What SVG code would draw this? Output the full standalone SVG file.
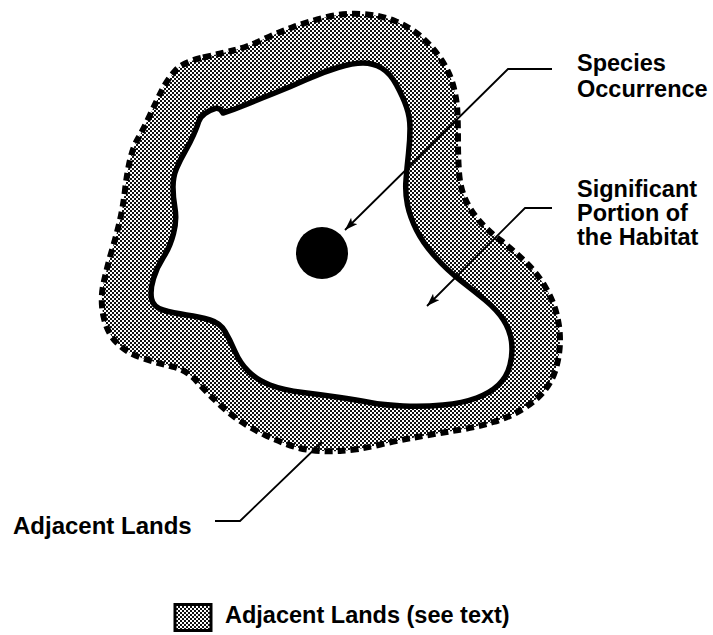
<svg xmlns="http://www.w3.org/2000/svg" width="713" height="635" viewBox="0 0 713 635">
<style>
.lbl{font-family:"Liberation Sans",Arial,sans-serif;font-weight:bold;font-size:23.5px;fill:#000}
.leg{font-family:"Liberation Sans",Arial,sans-serif;font-weight:bold;font-size:23.5px;fill:#000}
.lead{fill:none;stroke:#000;stroke-width:1.8}
</style>
<defs>
<pattern id="hatch" width="4" height="4" patternUnits="userSpaceOnUse">
<rect width="4" height="4" fill="#fff"/>
<rect width="2" height="2" fill="#111"/>
<rect x="2" y="2" width="2" height="2" fill="#111"/>
</pattern>
<marker id="arr" markerWidth="14" markerHeight="10" refX="13" refY="4.5" orient="auto" markerUnits="userSpaceOnUse">
<path d="M0,0 L13,4.5 L0,9 L3,4.5 Z" fill="#000"/>
</marker>
</defs>
<rect width="713" height="635" fill="#fff"/>
<g id="adjacent-lands-band">
<path fill="url(#hatch)" fill-rule="evenodd" d="M 203,57.5 Q 223,53 235,50 Q 247,47 262,40 Q 277,33 292,27.5 Q 307,22 325,17.5 Q 343,13 361.5,14 Q 380,15 395,21 Q 410,27 421.5,37 Q 433,47 441.5,60 Q 450,73 453.5,86.5 Q 457,100 457.5,113.5 Q 458,127 458,142 Q 458,157 459,172 Q 460,187 465,198.5 Q 470,210 478.5,220 Q 487,230 500,240 Q 513,250 525,261.5 Q 537,273 545,286.5 Q 553,300 556.5,313.5 Q 560,327 560,340 Q 560,353 556.5,366.5 Q 553,380 545,390 Q 537,400 523.5,408.5 Q 510,417 493.5,422 Q 477,427 458.5,430 Q 440,433 420,436.5 Q 400,440 378.5,445 Q 357,450 340,451 Q 323,452 306.5,449.5 Q 290,447 265,435 Q 240,423 223.5,408 Q 207,393 197,381.5 Q 187,370 172,366.5 Q 157,363 142,358 Q 127,353 117,343 Q 107,333 103.5,316.5 Q 100,300 103.5,283.5 Q 107,267 112,250 Q 117,233 120,220 Q 123,207 125,190 Q 127,173 130,160 Q 133,147 138,138.5 Q 143,130 150,115 Q 157,100 162,90 Q 167,80 175,71 Q 183,62 203,57.5 Z M 223,113 Q 233,110 245,105 Q 257,100 273.5,93.5 Q 290,87 306.5,79.5 Q 323,72 338,67.5 Q 353,63 363,63 Q 373,63 381.5,68 Q 390,73 396.5,85 Q 403,97 406.5,107 Q 410,117 410,128.5 Q 410,140 408.5,153.5 Q 407,167 406,180 Q 405,193 407.5,205 Q 410,217 416.5,230 Q 423,243 435,256.5 Q 447,270 460,280 Q 473,290 485,300 Q 497,310 503.5,320 Q 510,330 511.5,341.5 Q 513,353 510,365 Q 507,377 498.5,385 Q 490,393 476.5,398 Q 463,403 443,405 Q 423,407 403,406 Q 383,405 370,402.5 Q 357,400 340,397.5 Q 323,395 303,392.5 Q 283,390 270,385 Q 257,380 248.5,371.5 Q 240,363 235,351.5 Q 230,340 225,331.5 Q 220,323 210,320 Q 200,317 186.5,315 Q 173,313 163,310 Q 153,307 151.5,298.5 Q 150,290 153.5,278.5 Q 157,267 163.5,257 Q 170,247 173.5,233.5 Q 177,220 175,208.5 Q 173,197 173,187 Q 173,177 176.5,168.5 Q 180,160 185,151.5 Q 190,143 193.5,135 Q 197,127 198.5,122 Q 200,117 205,113.5 Q 210,110 215,108.5 Q 220,107 223,113 Z"/>
<path fill="none" stroke="#000" stroke-width="6" stroke-dasharray="8 5" d="M 203,57.5 Q 223,53 235,50 Q 247,47 262,40 Q 277,33 292,27.5 Q 307,22 325,17.5 Q 343,13 361.5,14 Q 380,15 395,21 Q 410,27 421.5,37 Q 433,47 441.5,60 Q 450,73 453.5,86.5 Q 457,100 457.5,113.5 Q 458,127 458,142 Q 458,157 459,172 Q 460,187 465,198.5 Q 470,210 478.5,220 Q 487,230 500,240 Q 513,250 525,261.5 Q 537,273 545,286.5 Q 553,300 556.5,313.5 Q 560,327 560,340 Q 560,353 556.5,366.5 Q 553,380 545,390 Q 537,400 523.5,408.5 Q 510,417 493.5,422 Q 477,427 458.5,430 Q 440,433 420,436.5 Q 400,440 378.5,445 Q 357,450 340,451 Q 323,452 306.5,449.5 Q 290,447 265,435 Q 240,423 223.5,408 Q 207,393 197,381.5 Q 187,370 172,366.5 Q 157,363 142,358 Q 127,353 117,343 Q 107,333 103.5,316.5 Q 100,300 103.5,283.5 Q 107,267 112,250 Q 117,233 120,220 Q 123,207 125,190 Q 127,173 130,160 Q 133,147 138,138.5 Q 143,130 150,115 Q 157,100 162,90 Q 167,80 175,71 Q 183,62 203,57.5 Z"/>
</g>
<g id="habitat">
<path fill="#fff" stroke="#000" stroke-width="5.5" stroke-linejoin="round" d="M 223,113 Q 233,110 245,105 Q 257,100 273.5,93.5 Q 290,87 306.5,79.5 Q 323,72 338,67.5 Q 353,63 363,63 Q 373,63 381.5,68 Q 390,73 396.5,85 Q 403,97 406.5,107 Q 410,117 410,128.5 Q 410,140 408.5,153.5 Q 407,167 406,180 Q 405,193 407.5,205 Q 410,217 416.5,230 Q 423,243 435,256.5 Q 447,270 460,280 Q 473,290 485,300 Q 497,310 503.5,320 Q 510,330 511.5,341.5 Q 513,353 510,365 Q 507,377 498.5,385 Q 490,393 476.5,398 Q 463,403 443,405 Q 423,407 403,406 Q 383,405 370,402.5 Q 357,400 340,397.5 Q 323,395 303,392.5 Q 283,390 270,385 Q 257,380 248.5,371.5 Q 240,363 235,351.5 Q 230,340 225,331.5 Q 220,323 210,320 Q 200,317 186.5,315 Q 173,313 163,310 Q 153,307 151.5,298.5 Q 150,290 153.5,278.5 Q 157,267 163.5,257 Q 170,247 173.5,233.5 Q 177,220 175,208.5 Q 173,197 173,187 Q 173,177 176.5,168.5 Q 180,160 185,151.5 Q 190,143 193.5,135 Q 197,127 198.5,122 Q 200,117 205,113.5 Q 210,110 215,108.5 Q 220,107 223,113 Z"/>
</g>
<g id="occurrence">
<circle cx="322" cy="253" r="26" fill="#000"/>
</g>
<g id="connectors">
<polyline class="lead" points="552,69 508,69 345,230" marker-end="url(#arr)"/>
<polyline class="lead" points="552,208 525,208 427,306" marker-end="url(#arr)"/>
<polyline class="lead" points="215,521 240,521 322,442"/>
</g>
<g id="label-species">
<text class="lbl" x="577" y="71">Species</text>
<text class="lbl" x="577" y="97">Occurrence</text>
</g>
<g id="label-habitat">
<text class="lbl" x="577" y="197">Significant</text>
<text class="lbl" x="577" y="221">Portion of</text>
<text class="lbl" x="577" y="245">the Habitat</text>
</g>
<g id="label-adjacent">
<text class="lbl" x="13" y="534" style="font-size:24px">Adjacent Lands</text>
</g>
<g id="legend">
<rect x="175" y="604.5" width="36" height="26" fill="url(#hatch)" stroke="#000" stroke-width="3"/>
<text class="leg" x="225" y="623">Adjacent Lands (see text)</text>
</g>
</svg>
